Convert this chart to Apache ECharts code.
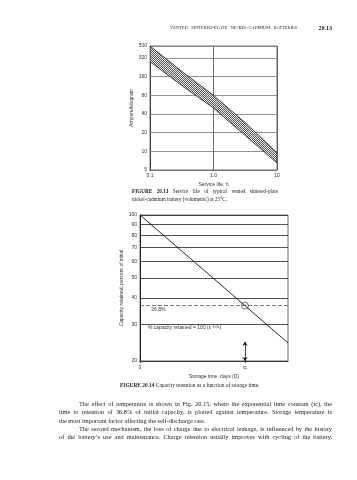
<!DOCTYPE html>
<html><head><meta charset="utf-8">
<script src="https://cdn.jsdelivr.net/npm/echarts@6/dist/echarts.min.js"></script>
<style>html,body{margin:0;padding:0;background:#fff}#c{width:357px;height:480px}</style>
</head><body><div id="c"></div><script>
// ---- Figure 20.13 data (service life band, log-log) ----
const lifeHours = [0.1, 0.316, 1, 3.16, 10];
const upperRate = [500, 195, 80, 29, 9.5];
const lowerRate = [280, 115, 50, 18, 6.5];
const rateTicks = [5, 10, 20, 40, 80, 160, 320, 500];
const lifeTickLabels = ['0.1', '1.0', '10'];
// ---- Figure 20.14 data (capacity retention) ----
const storageX = [0, 1, 1.41];
const retained = [100, 36.8, 24.4];
const retainedTicks = [20, 30, 40, 50, 60, 70, 80, 90, 100];
const tcPoint = [1, 36.8];
const tcArrowY = [20, 24.7];
const storageTickLabels = ['0', 'tc'];

// ---- page text ----
const headerText = 'VENTED SINTERED-PLATE NICKEL-CADMIUM BATTERIES';
const pageNum = '20.13';
const cap1a = 'FIGURE 20.13  Service life of typical vented sintered-plate';
const cap1b = 'nickel-cadmium battery (volumetric) at 25°C.';
const cap2 = 'FIGURE 20.14  Capacity retention as a function of storage time.';
const body = [
  'The effect of temperature is shown in Fig. 20.15, where the exponential time constant (tc), the',
  'time to retention of 36.8% of initial capacity, is plotted against temperature. Storage temperature is',
  'the most important factor affecting the self-discharge rate.',
  'The second mechanism, the loss of charge due to electrical leakage, is influenced by the history',
  'of the battery\u2019s use and maintenance. Charge retention usually improves with cycling of the battery,'
];

const SERIF = '"Liberation Serif", "DejaVu Serif", serif';
const SANS = '"Liberation Sans", Arial, sans-serif';
const mctx = document.createElement('canvas').getContext('2d');

function fontStr(size, bold, fam) { return (bold ? 'bold ' : '') + size + 'px ' + fam; }

// Place a line of words; justified between x0 and x1 if x1 given
function lineWords(text, x0, x1, y, size, boldCount, fam) {
  const ws = text.split(/\s+/);
  const fonts = ws.map((w, i) => fontStr(size, i < (boldCount || 0), fam || SERIF));
  const widths = ws.map((w, i) => { mctx.font = fonts[i]; return mctx.measureText(w).width; });
  const total = widths.reduce((a, b) => a + b, 0);
  mctx.font = fontStr(size, false, fam || SERIF);
  const sp = mctx.measureText(' ').width;
  const gap = (x1 != null && ws.length > 1) ? (x1 - x0 - total) / (ws.length - 1) : sp;
  const els = [];
  let x = x0;
  ws.forEach((w, i) => {
    els.push({ type: 'text', x: x, y: y, silent: true,
      style: { text: w, font: fonts[i], fill: '#1a1a1a', align: 'left', verticalAlign: 'middle' } });
    x += widths[i] + gap;
  });
  return els;
}

const graphics = [];
graphics.push(...lineWords(headerText, 170, 297, 28, 4.4, 0));
graphics.push({ type: 'text', x: 332, y: 28, style: { text: pageNum, font: fontStr(6, true, SERIF), fill: '#1a1a1a', align: 'right', verticalAlign: 'middle' } });
graphics.push(...lineWords(cap1a, 132, 278, 192, 5.2, 2));
graphics.push(...lineWords(cap1b, 132, null, 200, 5.2, 0));
graphics.push(...lineWords(cap2, 120, null, 386, 5.4, 2));
graphics.push(...lineWords(body[0], 79, 332, 404, 6.3, 0));
graphics.push(...lineWords(body[1], 59, 332, 412.5, 6.3, 0));
graphics.push(...lineWords(body[2], 59, null, 421, 6.3, 0));
graphics.push(...lineWords(body[3], 79, 332, 429, 6.3, 0));
graphics.push(...lineWords(body[4], 59, 332, 437.5, 6.3, 0));
// annotations in Figure 20.14
graphics.push({ type: 'text', x: 151, y: 310, style: { text: '36.8%', font: fontStr(5.2, false, SANS), fill: '#333', align: 'left', verticalAlign: 'middle' } });
graphics.push({ type: 'text', x: 148, y: 328, style: {
  text: '{a|% capacity retained = 100 (\u03b5}{s|\u2212D/tc}{a|)}',
  align: 'left', verticalAlign: 'middle',
  rich: { a: { font: fontStr(5, false, SANS), fill: '#333' },
          s: { font: fontStr(3.6, false, SANS), fill: '#333', verticalAlign: 'top', padding: [0, 0, 3, 0] } } } });

// fine hatch pattern ("/" direction)
const pc = document.createElement('canvas');
pc.width = 2; pc.height = 2;
const g = pc.getContext('2d');
g.fillStyle = '#f0f0f0'; g.fillRect(0, 0, 2, 2);
g.fillStyle = '#555';
g.fillRect(1, 0, 1, 1);
g.fillRect(0, 1, 1, 1);
const hatch = { image: pc, repeat: 'repeat' };

const labelStyle = { fontSize: 5, color: '#333', fontFamily: SANS };

const chart = echarts.init(document.getElementById('c'), null, { renderer: 'canvas' });
chart.setOption({
  animation: false,
  backgroundColor: '#fff',
  grid: [
    { left: 150, top: 46, width: 127, height: 124, show: true, borderColor: '#555', borderWidth: 0.8, backgroundColor: 'transparent' },
    { left: 140, top: 215, width: 148, height: 146, show: true, borderColor: '#444', borderWidth: 0.8, backgroundColor: 'transparent' }
  ],
  xAxis: [
    { gridIndex: 0, type: 'log', logBase: 10, min: 0.1, max: 10,
      name: 'Service life, h', nameLocation: 'middle', nameGap: 12, nameTextStyle: labelStyle,
      axisLine: { lineStyle: { color: '#333', width: 0.8 } }, axisTick: { show: false },
      axisLabel: Object.assign({ margin: 3, formatter: v => v < 0.5 ? lifeTickLabels[0] : (v < 5 ? lifeTickLabels[1] : lifeTickLabels[2]) }, labelStyle),
      splitLine: { show: true, lineStyle: { color: '#444', width: 0.8 } } },
    { gridIndex: 1, type: 'value', min: 0, max: 1.41, interval: 1,
      name: 'Storage time, days (D)', nameLocation: 'middle', nameGap: 13, nameTextStyle: labelStyle,
      axisLine: { lineStyle: { color: '#222', width: 1 } }, axisTick: { show: true, length: 2, lineStyle: { color: '#444' } },
      axisLabel: Object.assign({ margin: 4, showMaxLabel: false, formatter: v => v === 0 ? storageTickLabels[0] : (v === 1 ? storageTickLabels[1] : '') }, labelStyle),
      splitLine: { show: false } }
  ],
  yAxis: [
    { gridIndex: 0, type: 'log', logBase: 10, min: 5, max: 500,
      name: 'Ampere/kilogram', nameLocation: 'middle', nameGap: 16, nameRotate: 90, nameTextStyle: labelStyle,
      axisLine: { show: true, lineStyle: { color: '#333', width: 0.8 } }, axisTick: { show: false },
      axisLabel: { show: false }, splitLine: { show: false } },
    { gridIndex: 1, type: 'log', logBase: 10, min: 20, max: 100,
      name: 'Capacity retained, percent of initial', nameLocation: 'middle', nameGap: 16, nameRotate: 90, nameTextStyle: labelStyle,
      axisLine: { show: true, lineStyle: { color: '#222', width: 1 } }, axisTick: { show: false },
      axisLabel: { show: false }, splitLine: { show: false } }
  ],
  graphic: graphics,
  series: [
    { type: 'custom', xAxisIndex: 0, yAxisIndex: 0, z: 3, clip: true,
      data: lifeHours.map((h, i) => [h, upperRate[i], lowerRate[i]]),
      encode: { x: 0, y: [1, 2] },
      renderItem: (params, api) => {
        if (params.dataIndex !== 0) return null;
        const pts = [];
        for (let i = 0; i < lifeHours.length; i++) pts.push(api.coord([lifeHours[i], upperRate[i]]));
        for (let i = lifeHours.length - 1; i >= 0; i--) pts.push(api.coord([lifeHours[i], lowerRate[i]]));
        return { type: 'polygon', shape: { points: pts }, style: { fill: hatch, stroke: '#222', lineWidth: 0.8 } };
      },
      markLine: { silent: true, symbol: 'none', z: 1, animation: false,
        label: Object.assign({ position: 'start', distance: 3, formatter: p => String(p.value) }, labelStyle),
        lineStyle: { color: '#777', width: 0.8, type: 'solid' },
        data: rateTicks.map(v => ({ yAxis: v })) } },
    { type: 'line', xAxisIndex: 1, yAxisIndex: 1, z: 3, showSymbol: false, silent: true,
      data: storageX.map((x, i) => [x, retained[i]]),
      lineStyle: { color: '#111', width: 0.9 },
      markLine: { silent: true, symbol: 'none', z: 1, animation: false,
        label: Object.assign({ position: 'start', distance: 3, formatter: p => String(p.value) }, labelStyle),
        lineStyle: { color: '#3a3a3a', width: 0.9, type: 'solid' },
        data: retainedTicks.map(v => ({ yAxis: v })).concat([
          { yAxis: tcPoint[1], label: { show: false }, lineStyle: { type: [4, 2], color: '#555', width: 0.8 } },
          [ { coord: [tcPoint[0], tcArrowY[0]], symbol: 'arrow', symbolSize: 4, label: { show: false }, lineStyle: { color: '#111', width: 0.8, type: 'solid' } },
            { coord: [tcPoint[0], tcArrowY[1]], symbol: 'arrow', symbolSize: 4 } ]
        ]) } },
    { type: 'scatter', xAxisIndex: 1, yAxisIndex: 1, z: 4, silent: true,
      data: [tcPoint], symbol: 'circle', symbolSize: 7,
      itemStyle: { color: 'rgba(255,255,255,0)', borderColor: '#222', borderWidth: 0.8 } }
  ]
});
</script></body></html>
